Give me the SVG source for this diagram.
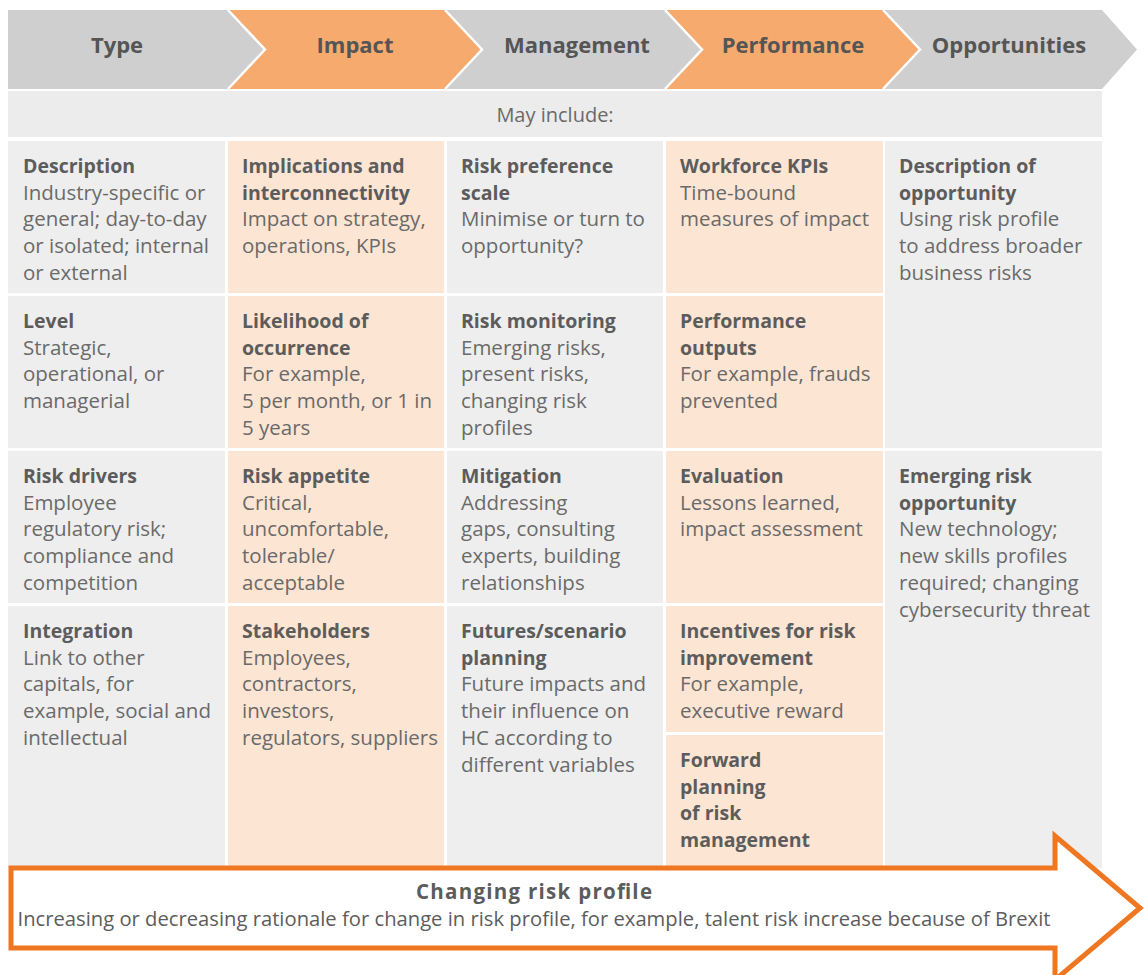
<svg xmlns="http://www.w3.org/2000/svg" width="1144" height="975" viewBox="0 0 1144 975">
  <style>
    .hdr { font-family: "Open Sans", "Liberation Sans", sans-serif; font-weight: bold; font-size: 22px; fill: #555555; text-anchor: middle; }
    .grey { fill: #CFCFCF; }
    .orange { fill: #F6AA6E; }
    .sep { fill: none; stroke: #FFFFFF; stroke-width: 2.5; }
    .band { fill: #ECECEC; }
    .cg { fill: #EEEEEE; }
    .co { fill: #FDE5D3; }
    .t { font-family: "Open Sans", "Liberation Sans", sans-serif; font-size: 20.5px; fill: #6A6A6A; }
    .b { font-weight: bold; font-size: 19.5px; fill: #5C5C5C; }
    .may { font-family: "Open Sans", "Liberation Sans", sans-serif; font-size: 20px; fill: #6A6A6A; text-anchor: middle; }
    .arrow { fill: #FFFFFF; stroke: #EF7721; stroke-width: 5; stroke-linejoin: miter; }
    .at { font-family: "Open Sans", "Liberation Sans", sans-serif; fill: #5C5C5C; text-anchor: middle; }
  </style>

  <!-- stage chevrons -->
  <g id="stages">
    <g id="stage-type">
      <polygon class="grey" points="8,10 228,10 265,49.5 228,89 8,89"/>
      <text class="hdr" x="117" y="53">Type</text>
    </g>
    <g id="stage-impact">
      <polygon class="orange" points="228,10 445,10 482,49.5 445,89 228,89 265,49.5"/>
      <text class="hdr" x="355" y="53">Impact</text>
    </g>
    <g id="stage-management">
      <polygon class="grey" points="445,10 665,10 702,49.5 665,89 445,89 482,49.5"/>
      <text class="hdr" x="577" y="53">Management</text>
    </g>
    <g id="stage-performance">
      <polygon class="orange" points="665,10 883,10 920,49.5 883,89 665,89 702,49.5"/>
      <text class="hdr" x="793" y="53">Performance</text>
    </g>
    <g id="stage-opportunities">
      <polygon class="grey" points="883,10 1102,10 1137,49.5 1102,89 883,89 920,49.5"/>
      <text class="hdr" x="1009" y="53">Opportunities</text>
    </g>
    <polyline class="sep" points="228,10 265,49.5 228,89"/>
    <polyline class="sep" points="445,10 482,49.5 445,89"/>
    <polyline class="sep" points="665,10 702,49.5 665,89"/>
    <polyline class="sep" points="883,10 920,49.5 883,89"/>
  </g>

  <g id="may-include">
    <rect class="band" x="8" y="91" width="1094" height="46"/>
    <text class="may" x="555" y="122">May include:</text>
  </g>

  <!-- column 1: Type -->
  <g id="cell-description">
    <rect class="cg" x="8" y="141" width="217" height="152"/>
    <text class="t" x="23" y="173"><tspan class="b">Description</tspan><tspan x="23" dy="26.7">Industry-specific or</tspan><tspan x="23" dy="26.7">general; day-to-day</tspan><tspan x="23" dy="26.7">or isolated; internal</tspan><tspan x="23" dy="26.7">or external</tspan></text>
  </g>
  <g id="cell-level">
    <rect class="cg" x="8" y="296" width="217" height="152"/>
    <text class="t" x="23" y="328"><tspan class="b">Level</tspan><tspan x="23" dy="26.7">Strategic,</tspan><tspan x="23" dy="26.7">operational, or</tspan><tspan x="23" dy="26.7">managerial</tspan></text>
  </g>
  <g id="cell-risk-drivers">
    <rect class="cg" x="8" y="451" width="217" height="152"/>
    <text class="t" x="23" y="483"><tspan class="b">Risk drivers</tspan><tspan x="23" dy="26.7">Employee</tspan><tspan x="23" dy="26.7">regulatory risk;</tspan><tspan x="23" dy="26.7">compliance and</tspan><tspan x="23" dy="26.7">competition</tspan></text>
  </g>
  <g id="cell-integration">
    <rect class="cg" x="8" y="606" width="217" height="262"/>
    <text class="t" x="23" y="638"><tspan class="b">Integration</tspan><tspan x="23" dy="26.7">Link to other</tspan><tspan x="23" dy="26.7">capitals, for</tspan><tspan x="23" dy="26.7">example, social and</tspan><tspan x="23" dy="26.7">intellectual</tspan></text>
  </g>

  <!-- column 2: Impact -->
  <g id="cell-implications">
    <rect class="co" x="228" y="141" width="216" height="152"/>
    <text class="t" x="242" y="173"><tspan class="b">Implications and</tspan><tspan x="242" dy="26.7" class="b">interconnectivity</tspan><tspan x="242" dy="26.7">Impact on strategy,</tspan><tspan x="242" dy="26.7">operations, KPIs</tspan></text>
  </g>
  <g id="cell-likelihood">
    <rect class="co" x="228" y="296" width="216" height="152"/>
    <text class="t" x="242" y="328"><tspan class="b">Likelihood of</tspan><tspan x="242" dy="26.7" class="b">occurrence</tspan><tspan x="242" dy="26.7">For example,</tspan><tspan x="242" dy="26.7">5 per month, or 1 in</tspan><tspan x="242" dy="26.7">5 years</tspan></text>
  </g>
  <g id="cell-risk-appetite">
    <rect class="co" x="228" y="451" width="216" height="152"/>
    <text class="t" x="242" y="483"><tspan class="b">Risk appetite</tspan><tspan x="242" dy="26.7">Critical,</tspan><tspan x="242" dy="26.7">uncomfortable,</tspan><tspan x="242" dy="26.7">tolerable/</tspan><tspan x="242" dy="26.7">acceptable</tspan></text>
  </g>
  <g id="cell-stakeholders">
    <rect class="co" x="228" y="606" width="216" height="262"/>
    <text class="t" x="242" y="638"><tspan class="b">Stakeholders</tspan><tspan x="242" dy="26.7">Employees,</tspan><tspan x="242" dy="26.7">contractors,</tspan><tspan x="242" dy="26.7">investors,</tspan><tspan x="242" dy="26.7">regulators, suppliers</tspan></text>
  </g>

  <!-- column 3: Management -->
  <g id="cell-risk-preference">
    <rect class="cg" x="447" y="141" width="216" height="152"/>
    <text class="t" x="461" y="173"><tspan class="b">Risk preference</tspan><tspan x="461" dy="26.7" class="b">scale</tspan><tspan x="461" dy="26.7">Minimise or turn to</tspan><tspan x="461" dy="26.7">opportunity?</tspan></text>
  </g>
  <g id="cell-risk-monitoring">
    <rect class="cg" x="447" y="296" width="216" height="152"/>
    <text class="t" x="461" y="328"><tspan class="b">Risk monitoring</tspan><tspan x="461" dy="26.7">Emerging risks,</tspan><tspan x="461" dy="26.7">present risks,</tspan><tspan x="461" dy="26.7">changing risk</tspan><tspan x="461" dy="26.7">profiles</tspan></text>
  </g>
  <g id="cell-mitigation">
    <rect class="cg" x="447" y="451" width="216" height="152"/>
    <text class="t" x="461" y="483"><tspan class="b">Mitigation</tspan><tspan x="461" dy="26.7">Addressing</tspan><tspan x="461" dy="26.7">gaps, consulting</tspan><tspan x="461" dy="26.7">experts, building</tspan><tspan x="461" dy="26.7">relationships</tspan></text>
  </g>
  <g id="cell-futures">
    <rect class="cg" x="447" y="606" width="216" height="262"/>
    <text class="t" x="461" y="638"><tspan class="b">Futures/scenario</tspan><tspan x="461" dy="26.7" class="b">planning</tspan><tspan x="461" dy="26.7">Future impacts and</tspan><tspan x="461" dy="26.7">their influence on</tspan><tspan x="461" dy="26.7">HC according to</tspan><tspan x="461" dy="26.7">different variables</tspan></text>
  </g>

  <!-- column 4: Performance -->
  <g id="cell-workforce-kpis">
    <rect class="co" x="666" y="141" width="217" height="152"/>
    <text class="t" x="680" y="173"><tspan class="b">Workforce KPIs</tspan><tspan x="680" dy="26.7">Time-bound</tspan><tspan x="680" dy="26.7">measures of impact</tspan></text>
  </g>
  <g id="cell-performance-outputs">
    <rect class="co" x="666" y="296" width="217" height="152"/>
    <text class="t" x="680" y="328"><tspan class="b">Performance</tspan><tspan x="680" dy="26.7" class="b">outputs</tspan><tspan x="680" dy="26.7">For example, frauds</tspan><tspan x="680" dy="26.7">prevented</tspan></text>
  </g>
  <g id="cell-evaluation">
    <rect class="co" x="666" y="451" width="217" height="152"/>
    <text class="t" x="680" y="483"><tspan class="b">Evaluation</tspan><tspan x="680" dy="26.7">Lessons learned,</tspan><tspan x="680" dy="26.7">impact assessment</tspan></text>
  </g>
  <g id="cell-incentives">
    <rect class="co" x="666" y="606" width="217" height="126"/>
    <text class="t" x="680" y="638"><tspan class="b">Incentives for risk</tspan><tspan x="680" dy="26.7" class="b">improvement</tspan><tspan x="680" dy="26.7">For example,</tspan><tspan x="680" dy="26.7">executive reward</tspan></text>
  </g>
  <g id="cell-forward-planning">
    <rect class="co" x="666" y="735" width="217" height="133"/>
    <text class="t" x="680" y="767"><tspan class="b">Forward</tspan><tspan x="680" dy="26.7" class="b">planning</tspan><tspan x="680" dy="26.7" class="b">of risk</tspan><tspan x="680" dy="26.7" class="b">management</tspan></text>
  </g>

  <!-- column 5: Opportunities -->
  <g id="cell-description-opportunity">
    <rect class="cg" x="885" y="141" width="217" height="307"/>
    <text class="t" x="899" y="173"><tspan class="b">Description of</tspan><tspan x="899" dy="26.7" class="b">opportunity</tspan><tspan x="899" dy="26.7">Using risk profile</tspan><tspan x="899" dy="26.7">to address broader</tspan><tspan x="899" dy="26.7">business risks</tspan></text>
  </g>
  <g id="cell-emerging-opportunity">
    <rect class="cg" x="885" y="451" width="217" height="417"/>
    <text class="t" x="899" y="483"><tspan class="b">Emerging risk</tspan><tspan x="899" dy="26.7" class="b">opportunity</tspan><tspan x="899" dy="26.7">New technology;</tspan><tspan x="899" dy="26.7">new skills profiles</tspan><tspan x="899" dy="26.7">required; changing</tspan><tspan x="899" dy="26.7">cybersecurity threat</tspan></text>
  </g>

  <!-- changing risk profile arrow -->
  <g id="changing-risk-profile">
    <polygon class="arrow" points="11,868 1055,868 1055,836 1140,908 1055,980 1055,948 11,948"/>
    <text class="at" x="534" y="899" font-weight="bold" font-size="20.5px" textLength="236" lengthAdjust="spacing">Changing risk profile</text>
    <text class="at" x="534" y="926" font-size="20.2px" fill="#6A6A6A" textLength="1033" lengthAdjust="spacing">Increasing or decreasing rationale for change in risk profile, for example, talent risk increase because of Brexit</text>
  </g>
</svg>
